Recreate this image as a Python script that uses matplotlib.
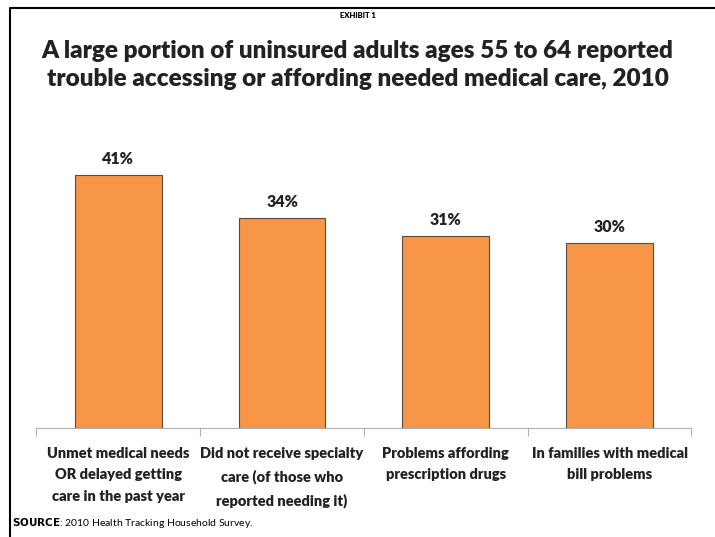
import matplotlib.pyplot as plt
import numpy as np

# data
categories = ["Unmet medical needs\nOR delayed getting\ncare in the past year",
              "Did not receive specialty\ncare (of those who\nreported needing it)",
              "Problems affording\nprescription drugs",
              "In families with medical\nbill problems"]
values = [41, 34, 31, 30]
value_labels = ["41%", "34%", "31%", "30%"]

plt.rcParams['font.family'] = ['Lato', 'DejaVu Sans']
W = "heavy"

fig = plt.figure(figsize=(7.15, 5.37), dpi=100)
ax = fig.add_axes([0.051, 0.203, 0.916, 0.518])

x = np.arange(len(values))
bars = ax.bar(x, values, width=0.53, color="#F79646", edgecolor="#5c4a3c", linewidth=0.8, zorder=2)
for b, lab in zip(bars, value_labels):
    ax.text(b.get_x() + b.get_width() / 2, b.get_height() + 1.3, lab,
            ha="center", va="bottom", fontsize=11.5, fontweight=W, color="#222222")

ax.set_xlim(-0.5, len(values) - 0.5)
ax.set_ylim(0, 45)
for s in ["top", "right", "left"]:
    ax.spines[s].set_visible(False)
ax.spines["bottom"].set_color("#b0b0b0")
ax.set_yticks([])
ax.set_xticks(np.arange(len(values) + 1) - 0.5)
ax.tick_params(axis="x", length=6, color="#b0b0b0", labelbottom=False)
for i, c in enumerate(categories):
    ax.text(i, -3.0, c, ha="center", va="top", fontsize=10.5, fontweight=W,
            color="#222222", linespacing=1.8)

fig.text(0.5, 0.972, "EXHIBIT 1", ha="center", va="center", fontsize=5.5, fontweight=W)
fig.text(0.5, 0.879, "A large portion of uninsured adults ages 55 to 64 reported\n"
         "trouble accessing or affording needed medical care, 2010",
         ha="center", va="center", fontsize=17.5, fontweight=W, color="#222222", linespacing=1.3)
fig.text(0.017, 0.026, r"$\bf{SOURCE}$: 2010 Health Tracking Household Survey.",
         ha="left", va="center", fontsize=7.5)

# frame lines on left and top
fig.add_artist(plt.Line2D([0.014, 0.014, 1.0], [0.0, 0.985, 0.985], color="black", linewidth=1.5))

fig.savefig("out.png", dpi=100)
